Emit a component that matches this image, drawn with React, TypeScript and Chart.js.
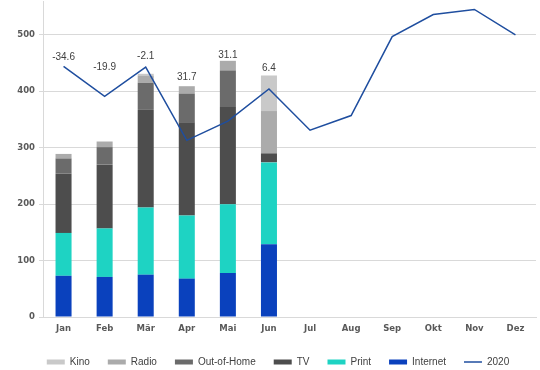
import React, { useEffect, useRef } from "react";
import { Chart, registerables } from "chart.js";

Chart.register(...registerables);

const months = ["Jan", "Feb", "Mär", "Apr", "Mai", "Jun", "Jul", "Aug", "Sep", "Okt", "Nov", "Dez"];

const internet = [73, 71, 75, 68, 78, 129, null, null, null, null, null, null];
const print = [76, 86, 119, 112, 122, 145, null, null, null, null, null, null];
const tv = [105, 113, 173, 165, 172, 16, null, null, null, null, null, null];
const outOfHome = [27, 31, 48, 51, 65, 0, null, null, null, null, null, null];
const radio = [8, 10, 13, 13, 17, 75, null, null, null, null, null, null];
const kino = [0, 0, 3, 0, 0, 63, null, null, null, null, null, null];
const line2020 = [444, 391, 443, 313, 347, 404, 331, 357, 497, 536, 545, 500];

const changeLabels = ["-34.6", "-19.9", "-2.1", "31.7", "31.1", "6.4"];
const changeLabelAt = [460, 443, 462, 425, 464, 441];

const yTicks = [0, 100, 200, 300, 400, 500];

const labelPlugin = {
  id: "changeLabels",
  afterDatasetsDraw(chart: any) {
    const { ctx, scales } = chart;
    ctx.save();
    ctx.font = "10px 'Liberation Sans', Arial, sans-serif";
    ctx.fillStyle = "#404040";
    ctx.textAlign = "center";
    ctx.textBaseline = "middle";
    changeLabels.forEach((t, i) => {
      const x = scales.x.getPixelForValue(i);
      const y = scales.y.getPixelForValue(changeLabelAt[i]);
      ctx.fillText(t, x, y);
    });
    ctx.restore();
  },
};

const legendShift = {
  id: "legendShift",
  afterLayout(chart: any) {
    const lg = chart.legend;
    if (lg) {
      lg.top -= 6;
      lg.bottom -= 6;
      lg.left += 10;
      lg.right += 10;
    }
  },
};

export default function App() {
  const ref = useRef<HTMLCanvasElement>(null);
  useEffect(() => {
    document.body.style.margin = "0";
    const bar = (label: string, data: any[], color: string) => ({
      type: "bar" as const,
      label,
      data,
      backgroundColor: color,
      borderWidth: 0,
      stack: "s",
      order: 1,
      categoryPercentage: 1,
      barPercentage: 0.39,
    });
    const chart = new Chart(ref.current!, {
      type: "bar",
      data: {
        labels: months,
        datasets: [
          bar("Internet", internet, "#0a41bd"),
          bar("Print", print, "#1ed3c3"),
          bar("TV", tv, "#4d4d4d"),
          bar("Out-of-Home", outOfHome, "#6b6b6b"),
          bar("Radio", radio, "#ababab"),
          bar("Kino", kino, "#c9c9c9"),
          {
            type: "line" as const,
            label: "2020",
            data: line2020,
            borderColor: "#1f4e9f",
            backgroundColor: "#1f4e9f",
            borderWidth: 1.5,
            pointRadius: 0,
            tension: 0,
            order: 0,
          } as any,
        ],
      },
      options: {
        responsive: false,
        animation: false,
        layout: { padding: { top: 1, right: 4, left: 0, bottom: -13 } },
        plugins: {
          tooltip: { enabled: false },
          legend: {
            position: "bottom",
            labels: {
              usePointStyle: true,
              boxHeight: 5,
              pointStyleWidth: 18,
              padding: 18,
              color: "#404040",
              font: { size: 10, family: "'Liberation Sans', Arial, sans-serif" },
              generateLabels(chart: any) {
                return chart.data.datasets.map((ds: any, i: number) => ({
                  text: ds.label,
                  fillStyle: ds.type === "line" ? "transparent" : ds.backgroundColor,
                  strokeStyle: ds.type === "line" ? ds.borderColor : "transparent",
                  lineWidth: ds.type === "line" ? 1.5 : 0,
                  pointStyle: ds.type === "line" ? "line" : "rect",
                  datasetIndex: i,
                  hidden: false,
                  fontColor: "#404040",
                }));
              },
              sort(a: any, b: any) {
                const r = (d: number) => (d === 6 ? 99 : 5 - d);
                return r(a.datasetIndex) - r(b.datasetIndex);
              },
            },
          },
        },
        scales: {
          x: {
            stacked: true,
            grid: { display: false },
            border: { display: true, color: "#d9d9d9" },
            ticks: {
              padding: -1,
              color: "#595959",
              maxRotation: 0,
              font: { size: 8.5, weight: "bold", family: "'DejaVu Sans', sans-serif" },
            },
            afterFit(scale: any) {
              scale.height = 28;
              scale.paddingLeft = 0;
              scale.paddingRight = 0;
            },
          },
          y: {
            stacked: true,
            min: 0,
            max: 560,
            ticks: {
              stepSize: 100,
              padding: 4,
              color: "#595959",
              font: { size: 8.5, weight: "bold", family: "'DejaVu Sans', sans-serif" },
            },
            afterBuildTicks(scale: any) {
              scale.ticks = yTicks.map((v) => ({ value: v }));
            },
            afterFit(scale: any) {
              scale.width = 43;
              scale.paddingTop = 0;
              scale.paddingBottom = 0;
            },
            grid: { color: "#d9d9d9", tickLength: 4 },
            border: { display: true, color: "#d9d9d9" },
          },
        },
      },
      plugins: [labelPlugin, legendShift],
    });
    return () => chart.destroy();
  }, []);
  return (
    <div style={{ width: 540, height: 370 }}>
      <canvas ref={ref} width={540} height={370} />
    </div>
  );
}
